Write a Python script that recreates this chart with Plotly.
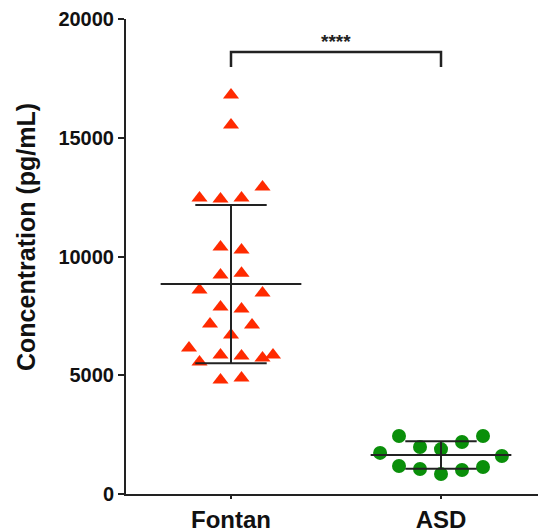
import plotly.graph_objects as go

categories = ["Fontan", "ASD"]

fontan_offsets = [0.0, 0.0, 0.15, -0.15, -0.05, 0.05, -0.05, 0.05, -0.05, 0.05, -0.15, 0.15,
                  -0.05, 0.05, -0.10, 0.10, 0.0, -0.20, -0.15, -0.05, 0.05, 0.15, 0.20, -0.05, 0.05]
fontan_values = [16800, 15540, 12930, 12460, 12420, 12460, 10400, 10270, 9220, 9300, 8590, 8460,
                 7870, 7790, 7160, 7120, 6700, 6150, 5560, 5850, 5810, 5730, 5850, 4800, 4880]

asd_offsets = [-0.20, -0.29, -0.10, 0.0, 0.10, 0.20, 0.29, -0.20, -0.10, 0.0, 0.10, 0.20]
asd_values = [2440, 1730, 1980, 1890, 2190, 2440, 1600, 1180, 1050, 840, 1010, 1140]

group_means = [8840, 1640]
group_sds = [3330, 580]

y_ticks = [0, 5000, 10000, 15000, 20000]
significance = "****"
y_title = "Concentration (pg/mL)"

FONT = "Liberation Sans, Arial, sans-serif"

fig = go.Figure()

fig.add_trace(go.Scatter(
    x=[0 + o for o in fontan_offsets], y=fontan_values, mode="markers",
    marker=dict(symbol="triangle-up", size=14, color="#FF2A00"),
    showlegend=False, cliponaxis=False))
fig.add_trace(go.Scatter(
    x=[1 + o for o in asd_offsets], y=asd_values, mode="markers",
    marker=dict(symbol="circle", size=14, color="#0A8F0A"),
    showlegend=False, cliponaxis=False))

line = dict(color="#222222", width=2)
for i, (m, s) in enumerate(zip(group_means, group_sds)):
    fig.add_shape(type="line", x0=i - 0.335, x1=i + 0.335, y0=m, y1=m, line=line)
    fig.add_shape(type="line", x0=i, x1=i, y0=m - s, y1=m + s, line=line)
    fig.add_shape(type="line", x0=i - 0.17, x1=i + 0.17, y0=m + s, y1=m + s, line=line)
    fig.add_shape(type="line", x0=i - 0.17, x1=i + 0.17, y0=m - s, y1=m - s, line=line)

# significance bracket
fig.add_shape(type="path", path="M 0,17980 L 0,18610 L 1,18610 L 1,17980",
              line=dict(color="#222222", width=2.5))
fig.add_annotation(x=0.5, y=18610, text="<b>%s</b>" % significance, showarrow=False,
                   yanchor="bottom", yshift=-2,
                   font=dict(size=19, color="#222222", family=FONT))

# y axis title
fig.add_annotation(xref="paper", yref="paper", x=-100 / 420, y=257 / 475,
                   text="<b>%s</b>" % y_title, textangle=-90, showarrow=False,
                   xanchor="center", yanchor="middle",
                   font=dict(size=25, color="#111111", family=FONT))

# page body adds an 8px offset; margins compensate for it
fig.update_layout(
    width=538, height=523,
    margin=dict(l=118, r=0, t=11, b=37),
    plot_bgcolor="white", paper_bgcolor="white",
    font=dict(family=FONT, color="#111111"),
)
fig.update_xaxes(
    range=[-0.5, 1.5], tickvals=[0, 1], ticktext=["<b>%s</b>" % c for c in categories],
    tickfont=dict(size=24), showline=True, linecolor="#222222", linewidth=2,
    ticks="outside", ticklen=3, tickwidth=2, tickcolor="#222222",
    showgrid=False, zeroline=False, automargin=False)
fig.update_yaxes(
    range=[0, 20000], tickvals=y_ticks, ticktext=["<b>%d</b>" % t for t in y_ticks],
    tickfont=dict(size=20), showline=True, linecolor="#222222", linewidth=2,
    ticks="outside", ticklen=6, tickwidth=2, tickcolor="#222222",
    showgrid=False, zeroline=False, automargin=False)

fig.write_html("out.html")
